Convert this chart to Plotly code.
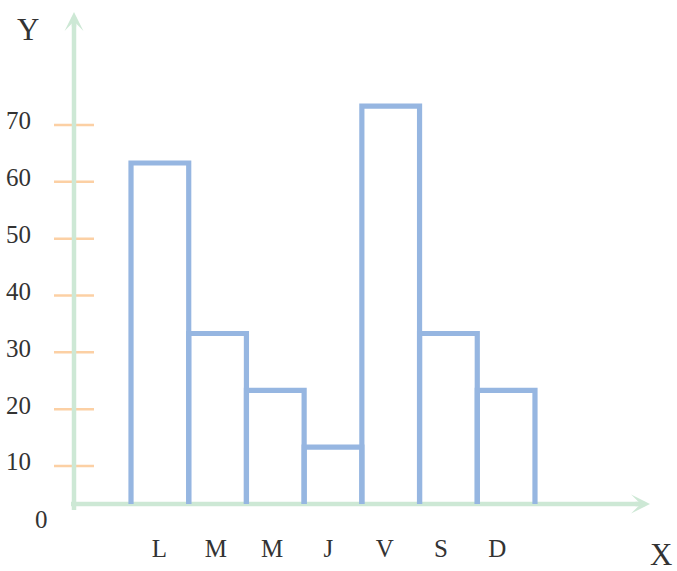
import plotly.graph_objects as go

# ---- data ----
days = ["L", "M", "M", "J", "V", "S", "D"]
values = [60, 30, 20, 10, 70, 30, 20]
y_tick_values = [10, 20, 30, 40, 50, 60, 70]
y_tick_labels = ["10", "20", "30", "40", "50", "60", "70"]

# ---- layout constants (pixels) ----
W, H = 677, 571
PL, PB = 73, 504            # plot area left / bottom edge
PW, PH = W - PL, PB
X_UNIT, FIRST_CENTER = 57.71, 159.86   # bar spacing, first bar centre
LBL_UNIT, FIRST_LBL = 56.3, 159.5      # x label spacing, first label centre
Y_UNIT = 5.683                          # px per value unit
TICK_SHIFT = -3.31                      # tick marks sit slightly off the scale
LABEL_RAISE = 0.75

BLUE = "#96b6e1"
GREEN = "#cde8d5"
ORANGE = "#fcd0a4"
TEXT = "#333333"
FONT = "Liberation Serif"


def px_x(px):
    return (px - PL) / PW


def px_y(py):
    return (PB - py) / PH


x_range = [-(FIRST_CENTER - PL) / X_UNIT, (W - FIRST_CENTER) / X_UNIT]
y_range = [0, PB / Y_UNIT]
x_label_pos = [(FIRST_LBL + LBL_UNIT * i - FIRST_CENTER) / X_UNIT for i in range(len(days))]

# outline of each bar (left side, top, right side)
bx, by = [], []
for i, v in enumerate(values):
    bx += [i - 0.5, i - 0.5, i + 0.5, i + 0.5, None]
    by += [0, v, v, 0, None]

fig = go.Figure()
fig.add_trace(go.Scatter(x=bx, y=by, mode="lines",
                         line=dict(color=BLUE, width=5.2),
                         hoverinfo="skip", showlegend=False))

shapes = []
for k in y_tick_values:
    shapes.append(dict(type="line", xref="paper", yref="y",
                       x0=px_x(54), x1=px_x(94), y0=k + TICK_SHIFT, y1=k + TICK_SHIFT,
                       line=dict(color=ORANGE, width=2.5), layer="below"))
shapes.append(dict(type="line", xref="paper", yref="paper",
                   x0=px_x(74), x1=px_x(74), y0=px_y(510), y1=px_y(22),
                   line=dict(color=GREEN, width=4.5), layer="below"))
shapes.append(dict(type="line", xref="paper", yref="paper",
                   x0=px_x(71), x1=px_x(638), y0=px_y(504), y1=px_y(504),
                   line=dict(color=GREEN, width=4.5), layer="below"))

annotations = [
    dict(xref="paper", yref="paper", x=px_x(74), y=px_y(12), ax=0, ay=16,
         text="", showarrow=True, arrowhead=3, arrowsize=0.7, arrowwidth=4.5,
         arrowcolor=GREEN),
    dict(xref="paper", yref="paper", x=px_x(650), y=px_y(504), ax=-16, ay=0,
         text="", showarrow=True, arrowhead=3, arrowsize=0.7, arrowwidth=4.5,
         arrowcolor=GREEN),
    dict(xref="paper", yref="paper", x=px_x(27.5), y=px_y(29), text="Y",
         showarrow=False, xanchor="center", yanchor="middle",
         font=dict(family=FONT, size=31, color=TEXT)),
    dict(xref="paper", yref="paper", x=px_x(661), y=px_y(554), text="X",
         showarrow=False, xanchor="center", yanchor="middle",
         font=dict(family=FONT, size=31, color=TEXT)),
    dict(xref="paper", yref="paper", x=px_x(41.5), y=px_y(519), text="0",
         showarrow=False, xanchor="center", yanchor="middle",
         font=dict(family=FONT, size=25, color=TEXT)),
]

fig.update_layout(
    width=W, height=H,
    margin=dict(l=PL, r=0, t=0, b=H - PB, pad=0),
    paper_bgcolor="white", plot_bgcolor="white",
    showlegend=False,
    font=dict(family=FONT, size=25, color=TEXT),
    xaxis=dict(range=x_range, tickmode="array", tickvals=x_label_pos, ticktext=days,
               ticks="outside", ticklen=22, tickcolor="rgba(0,0,0,0)",
               showgrid=False, zeroline=False, showline=False),
    yaxis=dict(range=y_range, tickmode="array",
               tickvals=[k + TICK_SHIFT + LABEL_RAISE for k in y_tick_values],
               ticktext=y_tick_labels,
               ticks="outside", ticklen=36, tickcolor="rgba(0,0,0,0)",
               showgrid=False, zeroline=False, showline=False),
    shapes=shapes,
    annotations=annotations,
)

fig.write_html("out.html", config={"displayModeBar": False},
               post_script="document.body.style.margin='0';document.body.style.overflow='hidden';")
